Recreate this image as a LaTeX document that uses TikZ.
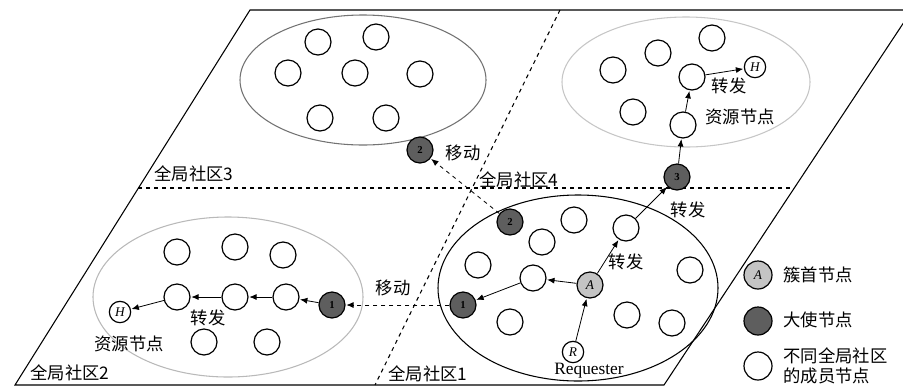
\documentclass[tikz,border=0pt]{standalone}
\usepackage{fontspec}
\setmainfont{Liberation Serif}
\newfontfamily\cjk{Noto Sans CJK SC}
\usetikzlibrary{arrows.meta}

\definecolor{envoygray}{HTML}{5E5E5E}
\definecolor{headgray}{HTML}{C4C4C4}

\tikzset{
  member/.style={circle,draw,line width=0.9pt,minimum size=19.5pt,inner sep=0pt,fill=white},
  target/.style={member,minimum size=16pt,font=\itshape},
  envoy/.style={member,fill=envoygray,font=\bfseries\footnotesize,text=black},
  head/.style={member,fill=headgray,font=\itshape},
  fwd/.style={-{Latex[length=5.5pt,width=4.5pt]},line width=0.6pt,shorten >=0.5pt},
  move/.style={fwd,dashed},
  lbl/.style={font=\cjk\fontsize{13}{15.5}\selectfont,inner sep=1pt},
}

\begin{document}
\begin{tikzpicture}[x=0.75pt,y=-0.75pt]
    \useasboundingbox (0,0) rectangle (903,387);

    % plane and its four parts
    \coordinate (tl) at (250,10);
    \coordinate (tr) at (912,10);
    \coordinate (br) at (664,385);
    \coordinate (bl) at (15,385);
    \draw[line width=0.8pt] (tl)--(tr)--(br)--(bl)--cycle;
    \coordinate (hl) at (138,188);
    \coordinate (hr) at (793,188);
    \coordinate (dt) at (560,10);
    \coordinate (db) at (375,385);
    \draw[dashed,line width=0.8pt] (hl)--(hr);
    \draw[dashed,line width=0.8pt] (dt)--(db);

    % communities
    \draw[line width=0.8pt,gray!90!black] (363,80) ellipse (123 and 65);
    \draw[line width=0.8pt,gray!45] (686,82) ellipse (124 and 65);
    \draw[line width=0.8pt,gray!55] (228,297) ellipse (135 and 80);
    \draw[line width=0.8pt] (578,288) ellipse (140 and 93);

    \node[lbl] (g3) at (194,174) {全局社区3};
    \node[lbl] (g4) at (519,180) {全局社区4};
    \node[lbl] (g2) at (70,373) {全局社区2};
    \node[lbl] (g1) at (428,374) {全局社区1};

    % community 3
    \node[member] (a1) at (318,42) {};
    \node[member] (a2) at (376,37) {};
    \node[member] (a3) at (288,73) {};
    \node[member] (a4) at (355,73) {};
    \node[member] (a5) at (420,74) {};
    \node[member] (a6) at (320,118) {};
    \node[member] (a7) at (386,118) {};
    \node[envoy] (e2b) at (420,150) {2};

    % community 4
    \node[member] (b1) at (613,70) {};
    \node[member] (b2) at (658,53) {};
    \node[member] (b3) at (712,38) {};
    \node[member] (b4) at (692,77) {};
    \node[target] (h4) at (755,67) {H};
    \node[member] (b5) at (633,112) {};
    \node[member] (b6) at (683,125) {};
    \node[envoy] (e3) at (677,177) {3};

    % community 1
    \node[envoy] (e2a) at (510,222) {2};
    \node[member] (c1) at (574,220) {};
    \node[member] (c2) at (542,242) {};
    \node[member] (c3) at (626,228) {};
    \node[member] (c4) at (478,265) {};
    \node[member] (c5) at (533,278) {};
    \node[head] (hd) at (590,285) {A};
    \node[member] (c6) at (690,270) {};
    \node[envoy] (e1a) at (463,305) {1};
    \node[member] (c7) at (510,322) {};
    \node[member] (c8) at (627,315) {};
    \node[member] (c9) at (672,323) {};
    \node[target] (rq) at (573,352) {R};
    \node[inner sep=0pt,font=\fontsize{13}{15}\selectfont] (rqt) at (589,371) {Requester};

    % community 2
    \node[member] (d1) at (177,252) {};
    \node[member] (d2) at (235,247) {};
    \node[member] (d3) at (283,255) {};
    \node[member] (d4) at (177,297) {};
    \node[member] (d5) at (235,297) {};
    \node[member] (d6) at (286,297) {};
    \node[envoy] (e1b) at (332,305) {1};
    \node[target] (h2) at (120,312) {H};
    \node[member] (d7) at (204,342) {};
    \node[member] (d8) at (267,342) {};

    % forwarding paths
    \draw[fwd] (rq)--(hd);
    \draw[fwd] (hd)--(c3);
    \draw[fwd] (c3)--(e3);
    \draw[fwd] (e3)--(b6);
    \draw[fwd] (b6)--(b4);
    \draw[fwd] (b4)--(h4);
    \draw[fwd] (hd)--(c5);
    \draw[fwd] (c5)--(e1a);
    \draw[move] (e1a)--(e1b);
    \draw[fwd] (e1b)--(d6);
    \draw[fwd] (d6)--(d5);
    \draw[fwd] (d5)--(d4);
    \draw[fwd] (d4)--(h2);
    \draw[move] (e2a)--(e2b);

    \node[lbl] (m1) at (393,288) {移动};
    \node[lbl] (m2) at (463,153) {移动};
    \node[lbl] (f1) at (626,262) {转发};
    \node[lbl] (f2) at (688,210) {转发};
    \node[lbl] (f3) at (729,86) {转发};
    \node[lbl] (f4) at (208,318) {转发};
    \node[lbl] (s4) at (740,117) {资源节点};
    \node[lbl] (s2) at (129,344) {资源节点};

    % legend
    \node[head,minimum size=21pt] (k1) at (758,275) {A};
    \node[envoy,minimum size=21pt] (k2) at (758,321) {};
    \node[member,minimum size=21pt] (k3) at (758,366) {};
    \node[lbl,anchor=west] (k1t) at (782,275) {簇首节点};
    \node[lbl,anchor=west] (k2t) at (782,320) {大使节点};
    \node[lbl,anchor=west,align=left] (k3t) at (782,366) {不同全局社区\\的成员节点};
\end{tikzpicture}
\end{document}
